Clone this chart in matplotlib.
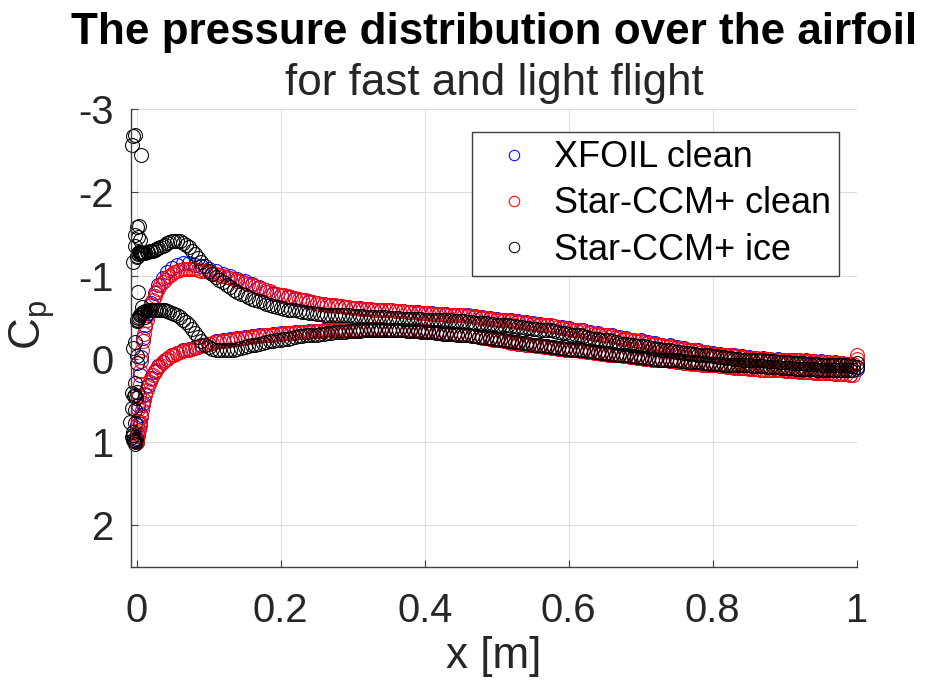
import numpy as np
import matplotlib
matplotlib.use("Agg")
import matplotlib.pyplot as plt

plt.rcParams['font.family'] = ['Liberation Sans', 'DejaVu Sans']
plt.rcParams['mathtext.fontset'] = 'custom'
plt.rcParams['mathtext.rm'] = 'Liberation Sans'
plt.rcParams['mathtext.it'] = 'Liberation Sans'

# ---- data: chord stations and pressure coefficients ----
# XFOIL stations (same x for upper and lower surface)
x_xfoil = [0.000, 0.001, 0.002, 0.004, 0.006, 0.009, 0.012, 0.016, 0.020, 0.025,
           0.030, 0.036, 0.042, 0.049, 0.056, 0.064, 0.072, 0.081, 0.090, 0.100,
           0.11, 0.12, 0.13, 0.14, 0.15, 0.16, 0.17, 0.18, 0.19, 0.20,
           0.21, 0.22, 0.23, 0.24, 0.25, 0.26, 0.27, 0.28, 0.29, 0.30,
           0.31, 0.32, 0.33, 0.34, 0.35, 0.36, 0.37, 0.38, 0.39, 0.40,
           0.41, 0.42, 0.43, 0.44, 0.45, 0.46, 0.47, 0.48, 0.49, 0.50,
           0.51, 0.52, 0.53, 0.54, 0.55, 0.56, 0.57, 0.58, 0.59, 0.60,
           0.61, 0.62, 0.63, 0.64, 0.65, 0.66, 0.67, 0.68, 0.69, 0.70,
           0.71, 0.72, 0.73, 0.74, 0.75, 0.76, 0.77, 0.78, 0.79, 0.80,
           0.81, 0.82, 0.83, 0.84, 0.85, 0.86, 0.87, 0.88, 0.89, 0.90,
           0.91, 0.92, 0.93, 0.94, 0.95, 0.96, 0.97, 0.98, 0.99, 1.00]

cp_xfoil_upper = [1.00, 0.80, 0.55, 0.20, -0.02, -0.25, -0.40, -0.55, -0.67, -0.79,
                  -0.88, -0.97, -1.04, -1.09, -1.13, -1.15, -1.15, -1.13, -1.11, -1.08,
                  -1.05, -1.02, -0.99, -0.96, -0.93, -0.90, -0.86, -0.80, -0.78, -0.76,
                  -0.74, -0.72, -0.70, -0.68, -0.67, -0.66, -0.64, -0.63, -0.62, -0.61,
                  -0.61, -0.60, -0.59, -0.59, -0.58, -0.57, -0.57, -0.56, -0.56, -0.55,
                  -0.55, -0.54, -0.54, -0.53, -0.52, -0.52, -0.51, -0.50, -0.49, -0.48,
                  -0.47, -0.46, -0.45, -0.44, -0.43, -0.42, -0.41, -0.39, -0.38, -0.37,
                  -0.35, -0.34, -0.32, -0.31, -0.29, -0.28, -0.26, -0.25, -0.23, -0.22,
                  -0.20, -0.19, -0.17, -0.16, -0.14, -0.13, -0.11, -0.10, -0.08, -0.07,
                  -0.06, -0.05, -0.04, -0.03, -0.02, -0.01, -0.01, 0.00, 0.00, 0.01,
                  0.01, 0.02, 0.02, 0.03, 0.03, 0.04, 0.04, 0.05, 0.06, 0.10]

cp_xfoil_lower = [1.00, 0.95, 0.90, 0.78, 0.67, 0.53, 0.42, 0.31, 0.23, 0.15,
                  0.09, 0.04, 0.00, -0.04, -0.07, -0.10, -0.12, -0.14, -0.16, -0.18,
                  -0.21, -0.22, -0.24, -0.25, -0.26, -0.27, -0.28, -0.29, -0.30, -0.31,
                  -0.31, -0.32, -0.32, -0.33, -0.33, -0.34, -0.34, -0.35, -0.35, -0.35,
                  -0.35, -0.36, -0.36, -0.36, -0.35, -0.35, -0.35, -0.34, -0.34, -0.33,
                  -0.32, -0.32, -0.31, -0.30, -0.29, -0.28, -0.27, -0.26, -0.25, -0.23,
                  -0.22, -0.20, -0.18, -0.17, -0.16, -0.15, -0.14, -0.13, -0.12, -0.11,
                  -0.10, -0.09, -0.08, -0.07, -0.06, -0.05, -0.04, -0.03, -0.02, -0.01,
                  0.00, 0.01, 0.02, 0.03, 0.04, 0.05, 0.05, 0.06, 0.07, 0.08,
                  0.09, 0.09, 0.10, 0.11, 0.11, 0.12, 0.13, 0.13, 0.14, 0.14,
                  0.15, 0.15, 0.16, 0.16, 0.17, 0.17, 0.18, 0.18, 0.19, 0.12]

# Star-CCM+ stations (clean and iced runs share the same surface stations)
x_star = [0.0, 0.0007, 0.0015, 0.0022, 0.003, 0.004, 0.005, 0.006, 0.0075, 0.009,
          0.0105, 0.012, 0.014, 0.016, 0.018, 0.020, 0.0225, 0.025, 0.0275, 0.030,
          0.033, 0.036, 0.039, 0.042, 0.0455, 0.049, 0.0525, 0.056, 0.060, 0.064,
          0.068, 0.072, 0.0765, 0.081, 0.0855, 0.090, 0.095,
          0.100, 0.105, 0.110, 0.115, 0.120, 0.125, 0.130, 0.135, 0.140, 0.145,
          0.150, 0.155, 0.160, 0.165, 0.170, 0.175, 0.180, 0.185, 0.190, 0.195,
          0.200, 0.205, 0.210, 0.215, 0.220, 0.225, 0.230, 0.235, 0.240, 0.245,
          0.250, 0.255, 0.260, 0.265, 0.270, 0.275, 0.280, 0.285, 0.290, 0.295,
          0.300, 0.305, 0.310, 0.315, 0.320, 0.325, 0.330, 0.335, 0.340, 0.345,
          0.350, 0.355, 0.360, 0.365, 0.370, 0.375, 0.380, 0.385, 0.390, 0.395,
          0.400, 0.405, 0.410, 0.415, 0.420, 0.425, 0.430, 0.435, 0.440, 0.445,
          0.450, 0.455, 0.460, 0.465, 0.470, 0.475, 0.480, 0.485, 0.490, 0.495,
          0.500, 0.505, 0.510, 0.515, 0.520, 0.525, 0.530, 0.535, 0.540, 0.545,
          0.550, 0.555, 0.560, 0.565, 0.570, 0.575, 0.580, 0.585, 0.590, 0.595,
          0.600, 0.605, 0.610, 0.615, 0.620, 0.625, 0.630, 0.635, 0.640, 0.645,
          0.650, 0.655, 0.660, 0.665, 0.670, 0.675, 0.680, 0.685, 0.690, 0.695,
          0.700, 0.705, 0.710, 0.715, 0.720, 0.725, 0.730, 0.735, 0.740, 0.745,
          0.750, 0.755, 0.760, 0.765, 0.770, 0.775, 0.780, 0.785, 0.790, 0.795,
          0.800, 0.805, 0.810, 0.815, 0.820, 0.825, 0.830, 0.835, 0.840, 0.845,
          0.850, 0.855, 0.860, 0.865, 0.870, 0.875, 0.880, 0.885, 0.890, 0.895,
          0.900, 0.905, 0.910, 0.915, 0.920, 0.925, 0.930, 0.935, 0.940, 0.945,
          0.950, 0.955, 0.960, 0.965, 0.970, 0.975, 0.980, 0.985, 0.990, 0.995,
          1.0]

cp_star_upper = [1.00, 0.88, 0.75, 0.60, 0.45, 0.30, 0.15, 0.03, -0.10, -0.21,
                 -0.30, -0.38, -0.46, -0.53, -0.59, -0.64, -0.70, -0.75, -0.80, -0.84,
                 -0.88, -0.92, -0.95, -0.98, -1.00, -1.02, -1.04, -1.06, -1.07, -1.08,
                 -1.08, -1.08, -1.08, -1.08, -1.07, -1.06, -1.05,
                 -1.04, -1.03, -1.02, -1.01, -0.99, -0.98, -0.97, -0.96, -0.94, -0.93,
                 -0.91, -0.90, -0.88, -0.87, -0.85, -0.84, -0.82, -0.81, -0.79, -0.78,
                 -0.77, -0.76, -0.75, -0.74, -0.73, -0.72, -0.71, -0.70, -0.69, -0.68,
                 -0.67, -0.66, -0.66, -0.65, -0.64, -0.64, -0.63, -0.63, -0.62, -0.62,
                 -0.61, -0.61, -0.60, -0.60, -0.60, -0.60, -0.59, -0.59, -0.58, -0.58,
                 -0.58, -0.58, -0.57, -0.57, -0.57, -0.56, -0.56, -0.56, -0.55, -0.55,
                 -0.55, -0.55, -0.54, -0.54, -0.54, -0.54, -0.53, -0.53, -0.52, -0.52,
                 -0.52, -0.52, -0.51, -0.51, -0.50, -0.50, -0.49, -0.49, -0.48, -0.48,
                 -0.47, -0.47, -0.46, -0.46, -0.45, -0.45, -0.44, -0.44, -0.43, -0.43,
                 -0.42, -0.42, -0.41, -0.41, -0.40, -0.40, -0.39, -0.38, -0.37, -0.37,
                 -0.36, -0.35, -0.34, -0.34, -0.33, -0.32, -0.31, -0.30, -0.30, -0.29,
                 -0.28, -0.28, -0.27, -0.26, -0.25, -0.24, -0.24, -0.23, -0.22, -0.21,
                 -0.21, -0.20, -0.19, -0.18, -0.18, -0.17, -0.16, -0.15, -0.15, -0.14,
                 -0.13, -0.13, -0.12, -0.11, -0.10, -0.10, -0.09, -0.08, -0.08, -0.07,
                 -0.06, -0.06, -0.05, -0.05, -0.04, -0.04, -0.03, -0.03, -0.02, -0.02,
                 -0.01, -0.01, -0.01, 0.00, 0.00, 0.00, 0.00, 0.01, 0.01, 0.01,
                 0.01, 0.02, 0.02, 0.02, 0.02, 0.03, 0.03, 0.03, 0.03, 0.04,
                 0.04, 0.04, 0.04, 0.05, 0.05, 0.05, 0.05, 0.06, 0.06, 0.06,
                 -0.04]

cp_star_lower = [1.00, 0.97, 0.93, 0.90, 0.86, 0.81, 0.76, 0.70, 0.62, 0.55,
                 0.49, 0.43, 0.38, 0.33, 0.28, 0.24, 0.20, 0.16, 0.13, 0.10,
                 0.07, 0.04, 0.02, 0.00, -0.02, -0.04, -0.05, -0.07, -0.08, -0.09,
                 -0.10, -0.11, -0.12, -0.13, -0.14, -0.15, -0.16,
                 -0.18, -0.19, -0.20, -0.21, -0.21, -0.22, -0.23, -0.24, -0.24, -0.25,
                 -0.25, -0.26, -0.26, -0.27, -0.27, -0.28, -0.28, -0.29, -0.29, -0.30,
                 -0.30, -0.31, -0.31, -0.31, -0.31, -0.32, -0.32, -0.32, -0.32, -0.33,
                 -0.33, -0.33, -0.33, -0.34, -0.34, -0.34, -0.34, -0.35, -0.35, -0.35,
                 -0.35, -0.35, -0.35, -0.35, -0.35, -0.36, -0.36, -0.36, -0.36, -0.35,
                 -0.35, -0.35, -0.35, -0.35, -0.35, -0.34, -0.34, -0.34, -0.33, -0.33,
                 -0.33, -0.33, -0.32, -0.32, -0.31, -0.31, -0.30, -0.30, -0.30, -0.30,
                 -0.29, -0.29, -0.28, -0.27, -0.27, -0.26, -0.25, -0.25, -0.24, -0.23,
                 -0.23, -0.22, -0.21, -0.20, -0.19, -0.19, -0.18, -0.18, -0.17, -0.17,
                 -0.16, -0.15, -0.15, -0.14, -0.14, -0.13, -0.13, -0.12, -0.12, -0.11,
                 -0.11, -0.10, -0.10, -0.09, -0.09, -0.08, -0.08, -0.07, -0.07, -0.06,
                 -0.06, -0.05, -0.05, -0.04, -0.04, -0.03, -0.03, -0.02, -0.02, -0.01,
                 -0.01, 0.00, 0.00, 0.01, 0.01, 0.02, 0.02, 0.02, 0.03, 0.03,
                 0.04, 0.04, 0.05, 0.05, 0.06, 0.06, 0.06, 0.07, 0.07, 0.08,
                 0.08, 0.08, 0.09, 0.09, 0.10, 0.10, 0.11, 0.11, 0.11, 0.11,
                 0.12, 0.12, 0.12, 0.13, 0.13, 0.13, 0.14, 0.14, 0.14, 0.14,
                 0.15, 0.15, 0.15, 0.15, 0.16, 0.16, 0.16, 0.16, 0.17, 0.17,
                 0.17, 0.17, 0.17, 0.17, 0.18, 0.18, 0.18, 0.18, 0.19, 0.19,
                 0.00]

cp_ice_upper = [-1.22, -1.24, -1.26, -1.27, -1.28, -1.28, -1.28, -1.27, -1.27, -1.27,
                -1.27, -1.27, -1.28, -1.28, -1.29, -1.29, -1.30, -1.31, -1.32, -1.33,
                -1.34, -1.36, -1.37, -1.39, -1.40, -1.41, -1.42, -1.42, -1.41, -1.39,
                -1.37, -1.34, -1.30, -1.26, -1.21, -1.16, -1.11,
                -1.06, -1.02, -0.98, -0.95, -0.92, -0.89, -0.86, -0.83, -0.80, -0.78,
                -0.76, -0.74, -0.72, -0.71, -0.69, -0.68, -0.66, -0.65, -0.63, -0.62,
                -0.61, -0.60, -0.59, -0.59, -0.58, -0.57, -0.56, -0.56, -0.55, -0.55,
                -0.54, -0.54, -0.53, -0.53, -0.53, -0.53, -0.52, -0.52, -0.52, -0.52,
                -0.51, -0.51, -0.51, -0.51, -0.50, -0.50, -0.50, -0.50, -0.50, -0.50,
                -0.49, -0.49, -0.49, -0.49, -0.48, -0.48, -0.48, -0.48, -0.48, -0.48,
                -0.47, -0.47, -0.47, -0.47, -0.46, -0.46, -0.46, -0.46, -0.45, -0.45,
                -0.45, -0.45, -0.44, -0.44, -0.43, -0.43, -0.43, -0.43, -0.42, -0.42,
                -0.41, -0.41, -0.40, -0.40, -0.39, -0.39, -0.38, -0.38, -0.37, -0.37,
                -0.36, -0.36, -0.35, -0.35, -0.34, -0.34, -0.33, -0.32, -0.31, -0.31,
                -0.30, -0.29, -0.28, -0.28, -0.27, -0.26, -0.25, -0.24, -0.24, -0.23,
                -0.22, -0.22, -0.21, -0.20, -0.19, -0.18, -0.18, -0.17, -0.16, -0.15,
                -0.15, -0.15, -0.14, -0.13, -0.12, -0.12, -0.11, -0.10, -0.10, -0.09,
                -0.08, -0.08, -0.07, -0.07, -0.06, -0.06, -0.05, -0.05, -0.04, -0.04,
                -0.03, -0.03, -0.02, -0.02, -0.01, -0.01, 0.00, 0.00, 0.01, 0.01,
                0.01, 0.01, 0.02, 0.02, 0.02, 0.03, 0.03, 0.03, 0.04, 0.04,
                0.04, 0.04, 0.05, 0.05, 0.05, 0.05, 0.06, 0.06, 0.06, 0.06,
                0.07, 0.07, 0.07, 0.07, 0.08, 0.08, 0.08, 0.08, 0.09, 0.09,
                0.05]

cp_ice_lower = [-0.45, -0.46, -0.47, -0.49, -0.50, -0.52, -0.53, -0.54, -0.55, -0.56,
                -0.56, -0.57, -0.57, -0.58, -0.58, -0.58, -0.59, -0.59, -0.59, -0.59,
                -0.59, -0.59, -0.58, -0.57, -0.56, -0.55, -0.54, -0.52, -0.50, -0.47,
                -0.44, -0.40, -0.36, -0.31, -0.26, -0.21, -0.17,
                -0.14, -0.12, -0.11, -0.10, -0.10, -0.10, -0.10, -0.11, -0.12, -0.13,
                -0.14, -0.15, -0.16, -0.17, -0.18, -0.19, -0.20, -0.21, -0.21, -0.22,
                -0.23, -0.24, -0.24, -0.25, -0.26, -0.27, -0.27, -0.28, -0.28, -0.29,
                -0.29, -0.30, -0.30, -0.31, -0.31, -0.32, -0.32, -0.32, -0.32, -0.33,
                -0.33, -0.33, -0.33, -0.34, -0.34, -0.34, -0.34, -0.34, -0.34, -0.34,
                -0.34, -0.34, -0.34, -0.34, -0.34, -0.33, -0.33, -0.33, -0.33, -0.32,
                -0.32, -0.32, -0.32, -0.31, -0.31, -0.30, -0.30, -0.30, -0.30, -0.29,
                -0.29, -0.28, -0.28, -0.27, -0.27, -0.26, -0.26, -0.25, -0.25, -0.24,
                -0.24, -0.23, -0.22, -0.21, -0.21, -0.20, -0.20, -0.19, -0.19, -0.18,
                -0.17, -0.16, -0.16, -0.15, -0.15, -0.14, -0.14, -0.13, -0.13, -0.12,
                -0.12, -0.11, -0.11, -0.10, -0.10, -0.09, -0.09, -0.08, -0.08, -0.07,
                -0.07, -0.06, -0.06, -0.05, -0.05, -0.04, -0.04, -0.03, -0.03, -0.02,
                -0.02, -0.01, -0.01, 0.00, 0.00, 0.01, 0.01, 0.01, 0.01, 0.02,
                0.02, 0.03, 0.03, 0.04, 0.04, 0.04, 0.04, 0.05, 0.05, 0.06,
                0.06, 0.06, 0.06, 0.07, 0.07, 0.07, 0.07, 0.08, 0.08, 0.08,
                0.08, 0.09, 0.09, 0.09, 0.09, 0.10, 0.10, 0.10, 0.10, 0.11,
                0.11, 0.11, 0.11, 0.12, 0.12, 0.12, 0.12, 0.12, 0.12, 0.13,
                0.13, 0.13, 0.13, 0.13, 0.13, 0.14, 0.14, 0.14, 0.14, 0.14,
                0.10]

# scattered points on the ice horn at the leading edge
x_ice_le = [-0.005, -0.003, -0.006, 0.006, 0.000, 0.003, 0.002, -0.002, 0.004, -0.002,
            -0.005, 0.002, 0.007, 0.012, -0.002, -0.005, 0.000, 0.000, -0.002, -0.006,
            -0.002, 0.000, -0.004, -0.001, -0.006, -0.002, -0.009, -0.002, -0.005, -0.005,
            -0.002, -0.006, -0.004, -0.003, -0.001, -0.005, -0.003]
cp_ice_le = [-2.67, -2.69, -2.57, -2.45, -1.58, -1.60, -1.46, -1.49, -1.43, -1.35,
             -1.16, -0.80, -0.62, -0.50, -0.20, -0.13, -0.03, 0.05, 0.29, 0.41,
             0.43, 0.40, 0.45, 0.47, 0.59, 0.61, 0.76, 0.77, 0.88, 0.97,
             1.00, 0.94, 0.98, 1.02, 0.96, 0.92, 0.99]

labels = ['XFOIL clean', 'Star-CCM+ clean', 'Star-CCM+ ice']
colors = ['#0000ff', '#ff0000', '#000000']
x_ticks = [0, 0.2, 0.4, 0.6, 0.8, 1]
x_ticklabels = ['0', '0.2', '0.4', '0.6', '0.8', '1']
y_ticks = [-3, -2, -1, 0, 1, 2]
y_ticklabels = ['-3', '-2', '-1', '0', '1', '2']

# ---- figure ----
fig = plt.figure(figsize=(9.25, 6.9), dpi=100)
ax = fig.add_axes([0.1413, 0.1783, 0.7849, 0.6638])

series = [
    (x_xfoil + x_xfoil, cp_xfoil_upper + cp_xfoil_lower),
    (x_star + x_star, cp_star_upper + cp_star_lower),
    (x_star + x_star + x_ice_le, cp_ice_upper + cp_ice_lower + cp_ice_le),
]
for (xs, cps), lab, col in zip(series, labels, colors):
    ax.plot(xs, cps, linestyle='none', marker='o', ms=10, mfc='none',
            mec=col, mew=0.75, label=lab, clip_on=False)

ax.set_xlim(-0.0083, 1.0)
ax.set_ylim(2.5, -3)
ax.set_xticks(x_ticks)
ax.set_xticklabels(x_ticklabels)
ax.set_yticks(y_ticks)
ax.set_yticklabels(y_ticklabels)

ax.grid(True, color='#dedede', linewidth=0.8)
ax.set_axisbelow(True)
for side in ['top', 'right']:
    ax.spines[side].set_visible(False)
for side in ['left', 'bottom']:
    ax.spines[side].set_color('#404040')
    ax.spines[side].set_linewidth(1.0)
ax.tick_params(direction='in', length=5, width=0.8, color='#404040',
               labelcolor='#262626', labelsize=28.8)
ax.tick_params(axis='x', pad=18)
ax.tick_params(axis='y', pad=12)

ax.set_xlabel('x [m]', fontsize=31.7, color='#262626')
ax.xaxis.set_label_coords(0.5, -0.151)
ax.set_ylabel(r'C$_\mathregular{p}$', fontsize=31.7, color='#262626')
ax.yaxis.set_label_coords(-0.102, 0.528)

fig.text(0.534, 1 - 44 / 690, 'The pressure distribution over the airfoil',
         ha='center', va='baseline', fontsize=31.7, fontweight='bold')
fig.text(0.534, 1 - 95 / 690, 'for fast and light flight',
         ha='center', va='baseline', fontsize=31.7, color='#262626')

leg = ax.legend(loc='upper right', bbox_to_anchor=(839 / 925, 1 - 132 / 690),
                bbox_transform=fig.transFigure, borderaxespad=0, fontsize=25.9,
                fancybox=False, framealpha=1, edgecolor='#404040',
                handlelength=1.9, handletextpad=0.15, labelspacing=0.31,
                borderpad=0.23, markerscale=0.75)
leg.get_frame().set_linewidth(1.0)

fig.savefig('out.png', dpi=100)
